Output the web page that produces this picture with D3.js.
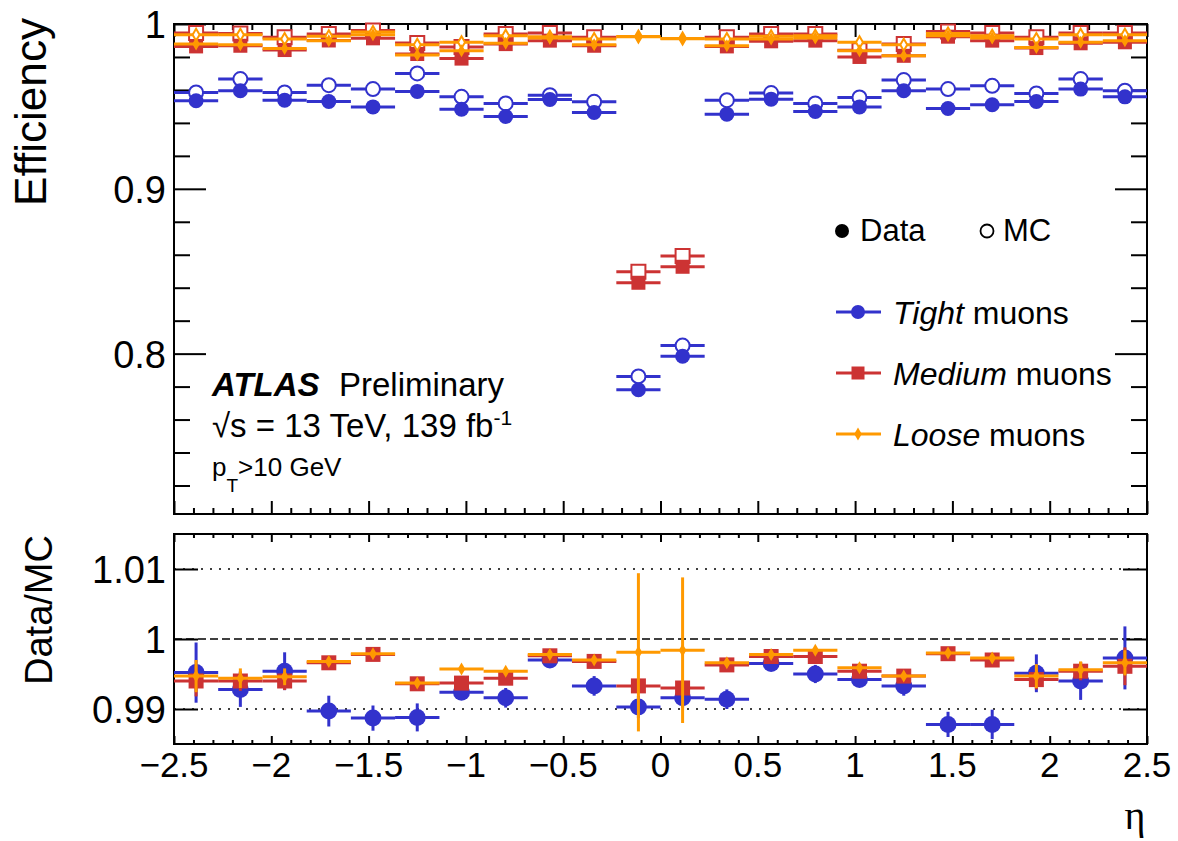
<!DOCTYPE html>
<html>
<head>
<meta charset="utf-8">
<script src="https://cdn.jsdelivr.net/npm/d3@7"></script>
<style>
  body { margin: 0; background: #fff; }
  text { font-family: "Liberation Sans", Arial, Helvetica, sans-serif; }
</style>
</head>
<body>
<svg id="chart" width="1178" height="841"></svg>
<script>
// eta bins (22 bins from -2.5 to 2.5)
var etaEdges = [-2.5, -2.273, -2.045, -1.818, -1.591, -1.364, -1.136, -0.909, -0.682, -0.455, -0.227,
  0, 0.227, 0.455, 0.682, 0.909, 1.136, 1.364, 1.591, 1.818, 2.045, 2.273, 2.5];

// efficiencies, top panel
var tightData = [0.9534, 0.9595, 0.9538, 0.9530, 0.9497, 0.9591, 0.9483, 0.9439, 0.9542, 0.9463, 0.7781,
  0.7984, 0.9453, 0.9544, 0.9469, 0.9497, 0.9595, 0.9487, 0.9510, 0.9530, 0.9605, 0.9558];
var tightMC = [0.9585, 0.9666, 0.9585, 0.9629, 0.9605, 0.9700, 0.9558, 0.9518, 0.9568, 0.9528, 0.7862,
  0.8049, 0.9538, 0.9581, 0.9518, 0.9554, 0.9660, 0.9605, 0.9625, 0.9579, 0.9666, 0.9595];
var mediumData = [0.9864, 0.9868, 0.9842, 0.9900, 0.9913, 0.9818, 0.9790, 0.9878, 0.9899, 0.9868, 0.8430,
  0.8527, 0.9864, 0.9895, 0.9899, 0.9800, 0.9807, 0.9923, 0.9899, 0.9854, 0.9883, 0.9889];
var mediumMC = [0.9945, 0.9943, 0.9919, 0.9940, 0.9960, 0.9884, 0.9860, 0.9939, 0.9945, 0.9919, 0.8497,
  0.8592, 0.9919, 0.9939, 0.9939, 0.9840, 0.9878, 0.9955, 0.9945, 0.9919, 0.9945, 0.9945];
var looseData = [0.9878, 0.9874, 0.9852, 0.9899, 0.9935, 0.9812, 0.9838, 0.9883, 0.9915, 0.9874, 0.9922,
  0.9910, 0.9868, 0.9909, 0.9915, 0.9838, 0.9807, 0.9929, 0.9915, 0.9858, 0.9889, 0.9899];
var looseMC = [0.9935, 0.9935, 0.9909, 0.9925, 0.9952, 0.9874, 0.9889, 0.9929, 0.9923, 0.9909, 0.9924,
  0.9912, 0.9909, 0.9925, 0.9929, 0.9889, 0.9874, 0.9943, 0.9929, 0.9909, 0.9935, 0.9935];

// data/MC ratios, bottom panel
var tightRatio = [0.9952, 0.9928, 0.9954, 0.9897, 0.9887, 0.9888, 0.9924, 0.9916, 0.9970, 0.9933, 0.9903,
  0.9916, 0.9914, 0.9965, 0.9950, 0.9942, 0.9933, 0.9878, 0.9878, 0.9951, 0.9940, 0.9973];
var tightErr = [0.0043, 0.0025, 0.0027, 0.0022, 0.0018, 0.0020, 0.0008, 0.0014, 0.0008, 0.0014, 0.0016,
  0.0014, 0.0014, 0.0008, 0.0013, 0.0008, 0.0014, 0.0018, 0.0021, 0.0027, 0.0027, 0.0045];
var mediumRatio = [0.9940, 0.9940, 0.9940, 0.9966, 0.9978, 0.9936, 0.9937, 0.9944, 0.9976, 0.9968, 0.9933,
  0.9930, 0.9963, 0.9975, 0.9975, 0.9954, 0.9947, 0.9979, 0.9970, 0.9942, 0.9954, 0.9961];
var mediumErr = [0.0022, 0.0014, 0.0013, 0.0005, 0.0004, 0.0005, 0.0005, 0.0005, 0.0004, 0.0004, 0.0010,
  0.0010, 0.0005, 0.0004, 0.0005, 0.0005, 0.0005, 0.0004, 0.0004, 0.0014, 0.0013, 0.0027];
var looseRatio = [0.9947, 0.9944, 0.9946, 0.9968, 0.9979, 0.9937, 0.9957, 0.9954, 0.9978, 0.9970, 0.9981,
  0.9984, 0.9966, 0.9978, 0.9984, 0.9959, 0.9947, 0.9980, 0.9973, 0.9947, 0.9956, 0.9966];
var looseErr = [0.0023, 0.0014, 0.0012, 0.0005, 0.0004, 0.0004, 0.0004, 0.0004, 0.0003, 0.0003, 0.0113,
  0.0104, 0.0004, 0.0004, 0.0004, 0.0004, 0.0004, 0.0004, 0.0004, 0.0017, 0.0012, 0.0018];

// ticks
var xMajor = [-2.5, -2, -1.5, -1, -0.5, 0, 0.5, 1, 1.5, 2, 2.5];
var xMinor = d3.range(-25, 26).map(function(k) { return k / 10; }).filter(function(v) { return xMajor.indexOf(v) < 0; });
var yTopMajor = [0.8, 0.9, 1];
var yTopMinor = [0.72, 0.74, 0.76, 0.78, 0.82, 0.84, 0.86, 0.88, 0.92, 0.94, 0.96, 0.98];
var yBotMajor = [0.99, 1, 1.01];

var blue = "#3232cc", red = "#cc3333", orange = "#ff9900";

var svg = d3.select("#chart");
svg.append("rect").attr("width", 1178).attr("height", 841).attr("fill", "#fff");

var x = d3.scaleLinear().domain([-2.5, 2.5]).range([174, 1147]),
  yTop = d3.scaleLinear().domain([0.7027, 1]).range([514, 24]),
  yBot = d3.scaleLinear().domain([0.985, 1.015]).range([744, 534]);

// diamond marker, narrower than d3.symbolDiamond
var narrowDiamond = {
  draw: function(ctx, size) {
    var h = Math.sqrt(size) / 2, w = h * 0.58;
    ctx.moveTo(0, -h); ctx.lineTo(w, 0); ctx.lineTo(0, h); ctx.lineTo(-w, 0); ctx.closePath();
  }
};
var shapes = { circle: d3.symbolCircle, square: d3.symbolSquare, diamond: narrowDiamond };

function tickGroup(g, axis, vals, len) {
  g.call(axis.tickValues(vals).tickSize(len).tickFormat(""));
  g.select(".domain").remove();
  g.selectAll(".tick line").attr("stroke", "#000").attr("stroke-width", 2);
}

function frame(yS, top, bottom, xMaj, xMin, yMaj, yMin, yMajLen, yMinLen) {
  var g = svg.append("g");
  tickGroup(g.append("g").attr("transform", "translate(0," + bottom + ")"), d3.axisTop(x), xMajor, xMaj);
  tickGroup(g.append("g").attr("transform", "translate(0," + bottom + ")"), d3.axisTop(x), xMinor, xMin);
  tickGroup(g.append("g").attr("transform", "translate(0," + top + ")"), d3.axisBottom(x), xMajor, xMaj);
  tickGroup(g.append("g").attr("transform", "translate(0," + top + ")"), d3.axisBottom(x), xMinor, xMin);
  tickGroup(g.append("g").attr("transform", "translate(174,0)"), d3.axisRight(yS), yMaj, yMajLen);
  tickGroup(g.append("g").attr("transform", "translate(1147,0)"), d3.axisLeft(yS), yMaj, yMajLen);
  if (yMin.length) {
    tickGroup(g.append("g").attr("transform", "translate(174,0)"), d3.axisRight(yS), yMin, yMinLen);
    tickGroup(g.append("g").attr("transform", "translate(1147,0)"), d3.axisLeft(yS), yMin, yMinLen);
  }
  g.append("rect").attr("x", 174).attr("y", top).attr("width", 973).attr("height", bottom - top)
    .attr("fill", "none").attr("stroke", "#000").attr("stroke-width", 2);
  // y labels
  g.selectAll("text.ylab").data(yMaj).join("text").attr("class", "ylab")
    .attr("x", 166).attr("y", function(d) { return yS(d) + 14; })
    .attr("text-anchor", "end").attr("font-size", 38)
    .text(d3.format("~g"));
}

// series: horizontal bin bars, optional vertical errors, marker
function series(yS, vals, errs, color, shape, size, open) {
  var g = svg.append("g");
  var bins = vals.map(function(v, i) {
    return { lo: etaEdges[i], hi: etaEdges[i + 1], c: (etaEdges[i] + etaEdges[i + 1]) / 2, v: v, e: errs ? errs[i] : 0 };
  });
  g.selectAll("line.h").data(bins).join("line").attr("class", "h")
    .attr("x1", function(d) { return x(d.lo); }).attr("x2", function(d) { return x(d.hi); })
    .attr("y1", function(d) { return yS(d.v); }).attr("y2", function(d) { return yS(d.v); })
    .attr("stroke", color).attr("stroke-width", 3);
  if (errs) {
    g.selectAll("line.v").data(bins).join("line").attr("class", "v")
      .attr("x1", function(d) { return x(d.c); }).attr("x2", function(d) { return x(d.c); })
      .attr("y1", function(d) { return yS(d.v - d.e); }).attr("y2", function(d) { return yS(d.v + d.e); })
      .attr("stroke", color).attr("stroke-width", 3);
  }
  g.selectAll("path.m").data(bins).join("path").attr("class", "m")
    .attr("d", d3.symbol(shapes[shape], size))
    .attr("transform", function(d) { return "translate(" + x(d.c) + "," + yS(d.v) + ")"; })
    .attr("fill", open ? "#fff" : color)
    .attr("stroke", open ? color : "none").attr("stroke-width", 2);
}

// ---- top panel
frame(yTop, 24, 514, 13, 6, yTopMajor, yTopMinor, 32, 16);
series(yTop, tightMC, null, blue, "circle", Math.PI * 49, true);
series(yTop, tightData, null, blue, "circle", Math.PI * 56, false);
series(yTop, mediumMC, null, red, "square", 196, true);
series(yTop, mediumData, null, red, "square", 196, false);
series(yTop, looseMC, null, orange, "diamond", 144, true);
series(yTop, looseData, null, orange, "diamond", 169, false);

// ---- bottom panel
frame(yBot, 534, 744, 8, 4, yBotMajor, [], 24, 0);
svg.append("g").selectAll("line").data(yBotMajor).join("line")
  .attr("x1", 174).attr("x2", 1147)
  .attr("y1", function(d) { return yBot(d); }).attr("y2", function(d) { return yBot(d); })
  .attr("stroke", "#000").attr("stroke-width", 1.5)
  .attr("stroke-dasharray", function(d) { return d === 1 ? "8,4" : "2,7"; });
series(yBot, tightRatio, tightErr, blue, "circle", Math.PI * 72, false);
series(yBot, mediumRatio, mediumErr, red, "square", 225, false);
series(yBot, looseRatio, looseErr, orange, "diamond", 169, false);

// x labels
svg.append("g").selectAll("text").data(xMajor).join("text")
  .attr("x", function(d) { return x(d); }).attr("y", 777)
  .attr("text-anchor", "middle").attr("font-size", 35)
  .text(d3.format("~g"));

svg.append("text").attr("x", 1135).attr("y", 829).attr("text-anchor", "middle")
  .attr("font-size", 40).style("font-family", "'Liberation Serif', 'DejaVu Serif', serif").text("η");

svg.append("text").attr("transform", "translate(46,18) rotate(-90)").attr("text-anchor", "end")
  .attr("font-size", 44).attr("textLength", 188).attr("lengthAdjust", "spacingAndGlyphs").text("Efficiency");
svg.append("text").attr("transform", "translate(52,535) rotate(-90)").attr("text-anchor", "end")
  .attr("font-size", 38).attr("textLength", 150).attr("lengthAdjust", "spacingAndGlyphs").text("Data/MC");

// ATLAS label
svg.append("text").attr("x", 212).attr("y", 396).attr("font-size", 33)
  .attr("font-weight", "bold").attr("font-style", "italic").text("ATLAS");
svg.append("text").attr("x", 339).attr("y", 396).attr("font-size", 33).text("Preliminary");
var l2 = svg.append("text").attr("x", 212).attr("y", 437).attr("font-size", 33);
l2.append("tspan").text("√s = 13 TeV, 139 fb");
l2.append("tspan").attr("dy", -12).attr("font-size", 21).text("-1");
var l3 = svg.append("text").attr("x", 212).attr("y", 476).attr("font-size", 26);
l3.append("tspan").text("p");
l3.append("tspan").attr("dy", 16).attr("font-size", 19).text("T");
l3.append("tspan").attr("dy", -16).text(">10 GeV");

// legend
var leg = svg.append("g");
leg.append("circle").attr("cx", 842).attr("cy", 231).attr("r", 7).attr("fill", "#000");
leg.append("text").attr("x", 860).attr("y", 241).attr("font-size", 31).text("Data");
leg.append("circle").attr("cx", 987).attr("cy", 231).attr("r", 6.5).attr("fill", "#fff")
  .attr("stroke", "#000").attr("stroke-width", 1.8);
leg.append("text").attr("x", 1003).attr("y", 241).attr("font-size", 31).text("MC");

var legRows = [
  { name: "Tight", color: blue, shape: "circle", size: Math.PI * 49, y: 312 },
  { name: "Medium", color: red, shape: "square", size: 169, y: 373 },
  { name: "Loose", color: orange, shape: "diamond", size: 169, y: 434 }
];
legRows.forEach(function(r) {
  leg.append("line").attr("x1", 836).attr("x2", 881).attr("y1", r.y).attr("y2", r.y)
    .attr("stroke", r.color).attr("stroke-width", 3);
  leg.append("path").attr("d", d3.symbol(shapes[r.shape], r.size))
    .attr("transform", "translate(858," + r.y + ")").attr("fill", r.color);
  var t = leg.append("text").attr("x", 893).attr("y", r.y + 12).attr("font-size", 32);
  t.append("tspan").attr("font-style", "italic").text(r.name);
  t.append("tspan").text(" muons");
});
</script>
</body>
</html>
